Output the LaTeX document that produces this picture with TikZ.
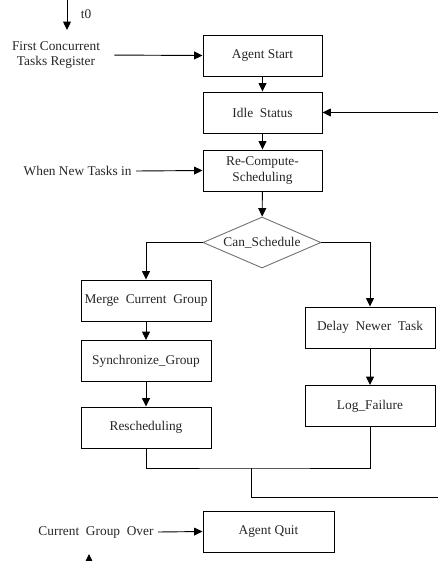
\documentclass[tikz,border=0pt]{standalone}
\usepackage{fontspec}
\setmainfont{Liberation Serif}
\usetikzlibrary{shapes.geometric,arrows.meta}

\tikzset{
  procbox/.style={draw, line width=0.65pt, minimum width=2.975cm, minimum height=1.025cm, align=center, inner sep=1pt, text=black!85},
  widebox/.style={procbox, minimum width=3.25cm},
  decision/.style={diamond, draw=black!55, line width=0.65pt, aspect=2.3, minimum width=2.95cm, minimum height=1.275cm, inner sep=0pt, text=black!85},
  note/.style={align=center, text=black!85, inner sep=3pt},
  flow/.style={line width=0.65pt, -{Triangle[length=6pt,width=5.6pt]}},
  wire/.style={line width=0.65pt}
}

\begin{document}
\begin{tikzpicture}[x=0.025cm, y=-0.025cm, font=\fontsize{9.5}{11}\selectfont]
				\useasboundingbox (0,0) rectangle (438,561);
				% main column
				\node[procbox] (start) at (262.5, 55.5) {Agent Start};
				\node[procbox] (idle) at (262.5, 112.5) {Idle\ \ Status};
				\node[procbox] (recompute) at (262.5, 170.5) {Re-Compute-\\Scheduling};
				\node[decision] (cansched) at (262, 242.5) {Can\_Schedule};
				% left branch
				\node[widebox] (merge) at (146, 300.5) {Merge\ \ Current\ \ Group};
				\node[widebox] (sync) at (146, 361) {Synchronize\_Group};
				\node[widebox] (resched) at (146, 427.5) {Rescheduling};
				% right branch
				\node[widebox] (delay) at (370, 327.5) {Delay\ \ Newer\ \ Task};
				\node[widebox] (logfail) at (370, 406) {Log\_Failure};
				\node[procbox, minimum width=3.275cm] (quit) at (268.5, 531.5) {Agent Quit};
				% outside inputs
				\node[note] (first) at (56, 55) {First Concurrent\\Tasks Register};
				\node[note, anchor=east] (newtasks) at (136, 171) {When New Tasks in};
				\node[note, anchor=east] (over) at (158, 532) {Current\ \ Group\ \ Over};
				\node[note] (t0) at (86, 14) {t0};
				\coordinate (toptail) at (67, -5);
				\coordinate (tophead) at (67, 30);
				\coordinate (bottail) at (89, 575);
				\coordinate (bothead) at (89, 554);
				\coordinate (join) at (251, 468);
				\coordinate (backout) at (440, 497);
				\coordinate (backin) at (438, 112.5);

				\draw[flow] (toptail) to (tophead);
				\draw[flow] (bottail) to (bothead);
				\draw[flow, shorten <=7pt] (first.east) to (start.west);
				\draw[flow] (newtasks.east) to (recompute.west);
				\draw[flow] (over.east) to (quit.west);
				\draw[flow] (start) to (idle);
				\draw[flow] (idle) to (recompute);
				\draw[flow] (recompute) to (cansched);
				\draw[flow] (backin) to (idle.east);
				\draw[flow] (cansched.west) -| (merge.north);
				\draw[flow] (cansched.east) -| (delay.north);
				\draw[flow] (merge) to (sync);
				\draw[flow] (sync) to (resched);
				\draw[flow] (delay) to (logfail);
				\draw[wire] (resched.south) |- (join) -| (logfail.south);
				\draw[wire] (join) |- (backout);
			\end{tikzpicture}
\end{document}
